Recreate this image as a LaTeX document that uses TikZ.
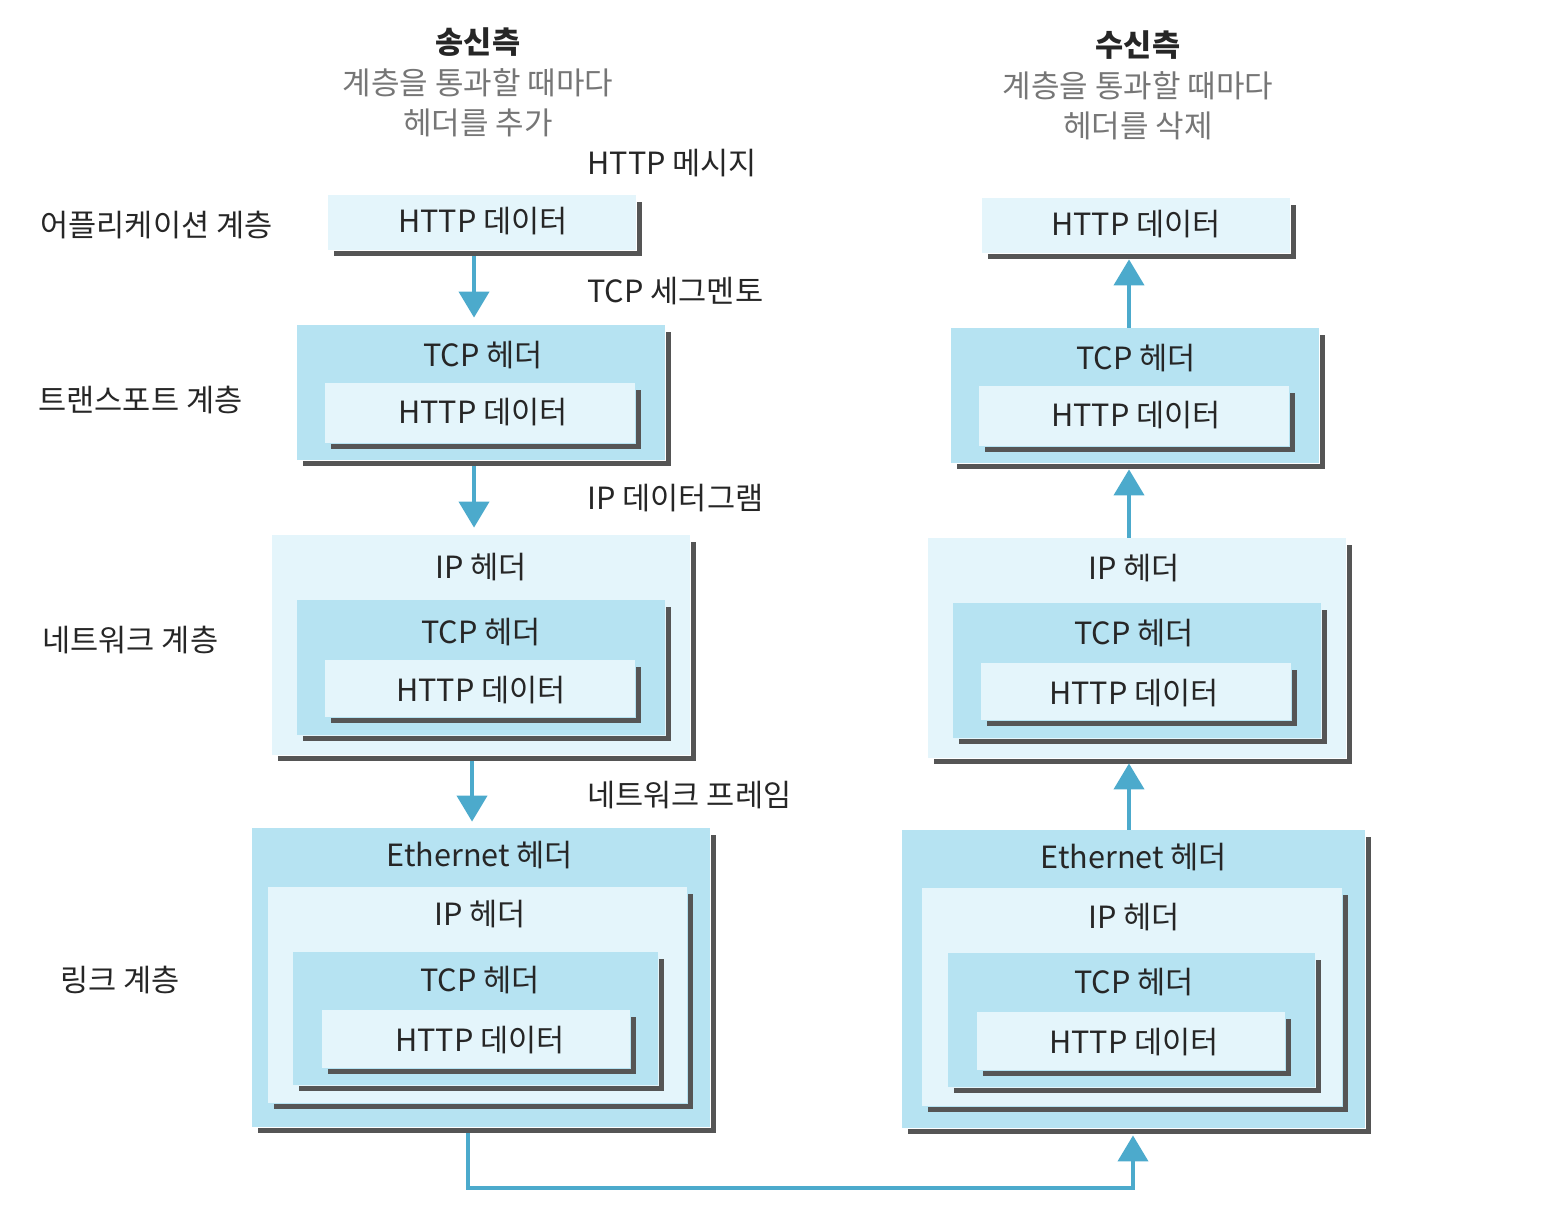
\documentclass[tikz,border=0pt]{standalone}
\usepackage{fontspec}
\setmainfont{Noto Sans CJK KR}
\usetikzlibrary{arrows.meta}
\definecolor{bdark}{RGB}{182,227,242}
\definecolor{blight}{RGB}{228,245,251}
\definecolor{shadowgray}{RGB}{85,85,85}
\definecolor{arrowblue}{RGB}{76,170,204}
\definecolor{subgray}{RGB}{118,118,118}
\tikzset{
  shadowline/.style={draw=shadowgray, line width=2.6pt},
  darkbox/.style={fill=bdark, draw=none, inner sep=0pt, rectangle},
  lightbox/.style={fill=blight, draw=none, inner sep=0pt, rectangle},
  lbl/.style={inner sep=0pt, text=black!85},
  side/.style={inner sep=0pt, anchor=west, text=black!85},
  subt/.style={inner sep=0pt, text=subgray, font=\fontsize{15.5}{18}\selectfont},
  flow/.style={draw=arrowblue, line width=2pt, -{Triangle[width=15pt,length=13pt]}},
}
% name, x1, y1, x2, y2, style, dx, dy
\newcommand\pktbox[8]{%
  \pgfmathsetmacro\pbw{(#4-#2)*0.5}%
  \pgfmathsetmacro\pbh{(#5-#3)*0.5}%
  \draw[shadowline] (#2+#7+6,#5+#8+3.5) -- (#4+#7+3.5,#5+#8+3.5) -- (#4+#7+3.5,#3+#8+7);
  \node[#6, minimum width=\pbw pt, minimum height=\pbh pt] (#1) at ({(#2+#4)/2+#7},{(#3+#5)/2+#8}) {};
}
\begin{document}
\begin{tikzpicture}[x=0.5pt, y=-0.5pt, font=\fontsize{15.3}{18}\selectfont]
\useasboundingbox (0,0) rectangle (1545,1228);

% ---------- titles ----------
\node[lbl, font=\fontsize{15.3}{18}\selectfont\bfseries] (sendT) at (478,42) {송신측};
\node[subt] (sendS1) at (478,83) {계층을 통과할 때마다};
\node[subt] (sendS2) at (478,123) {헤더를 추가};
\node[lbl, font=\fontsize{15.3}{18}\selectfont\bfseries] (recvT) at (1138,45) {수신측};
\node[subt] (recvS1) at (1138,86) {계층을 통과할 때마다};
\node[subt] (recvS2) at (1138,126) {헤더를 삭제};

% ---------- layer names ----------
\node[side] (lApp) at (40,225) {어플리케이션 계층};
\node[side] (lTp) at (38,400) {트랜스포트 계층};
\node[side] (lNw) at (42,640) {네트워크 계층};
\node[side] (lLk) at (60,980) {링크 계층};

% ---------- unit names ----------
\node[side] (uHttp) at (587,163) {HTTP 메시지};
\node[side] (uTcp) at (587,291) {TCP 세그멘토};
\node[side] (uIp) at (587,498) {IP 데이터그램};
\node[side] (uFrm) at (587,795) {네트워크 프레임};

% ---------- sender (left) ----------
\pktbox{appL}{328}{195}{636}{250}{lightbox}{0}{0}
\node[lbl] (appLt) at (483,221) {HTTP 데이터};

\pktbox{tpL}{297}{325}{665}{460}{darkbox}{0}{0}
\pktbox{tpLh}{325}{383}{635}{443}{lightbox}{0}{0}
\node[lbl] (tpLt1) at (483,355) {TCP 헤더};
\node[lbl] (tpLt2) at (483,412) {HTTP 데이터};

\pktbox{nwL}{272}{535}{690}{755}{lightbox}{0}{0}
\pktbox{nwLt}{297}{600}{665}{735}{darkbox}{0}{0}
\pktbox{nwLh}{325}{660}{635}{717}{lightbox}{0}{0}
\node[lbl] (nwLt1) at (481,567) {IP 헤더};
\node[lbl] (nwLt2) at (481,632) {TCP 헤더};
\node[lbl] (nwLt3) at (481,690) {HTTP 데이터};

\pktbox{lkL}{252}{828}{710}{1127}{darkbox}{0}{0}
\pktbox{lkLi}{268}{887}{687}{1103}{lightbox}{0}{0}
\pktbox{lkLt}{293}{952}{658}{1085}{darkbox}{0}{0}
\pktbox{lkLh}{322}{1010}{630}{1068}{lightbox}{0}{0}
\node[lbl] (lkLt1) at (480,855) {Ethernet 헤더};
\node[lbl] (lkLt2) at (480,914) {IP 헤더};
\node[lbl] (lkLt3) at (480,980) {TCP 헤더};
\node[lbl] (lkLt4) at (480,1040) {HTTP 데이터};

% ---------- receiver (right) ----------
\pktbox{appR}{328}{195}{636}{250}{lightbox}{654}{3}
\node[lbl] (appRt) at (1136,224) {HTTP 데이터};

\pktbox{tpR}{297}{325}{665}{460}{darkbox}{654}{3}
\pktbox{tpRh}{325}{383}{635}{443}{lightbox}{654}{3}
\node[lbl] (tpRt1) at (1136,358) {TCP 헤더};
\node[lbl] (tpRt2) at (1136,415) {HTTP 데이터};

\pktbox{nwR}{272}{535}{690}{755}{lightbox}{656}{3}
\pktbox{nwRt}{297}{600}{665}{735}{darkbox}{656}{3}
\pktbox{nwRh}{325}{660}{635}{717}{lightbox}{656}{3}
\node[lbl] (nwRt1) at (1134,568) {IP 헤더};
\node[lbl] (nwRt2) at (1134,633) {TCP 헤더};
\node[lbl] (nwRt3) at (1134,693) {HTTP 데이터};

\pktbox{lkR}{902}{830}{1365}{1128}{darkbox}{0}{0}
\pktbox{lkRi}{922}{888}{1342}{1106}{lightbox}{0}{0}
\pktbox{lkRt}{948}{953}{1315}{1087}{darkbox}{0}{0}
\pktbox{lkRh}{977}{1012}{1285}{1070}{lightbox}{0}{0}
\node[lbl] (lkRt1) at (1134,857) {Ethernet 헤더};
\node[lbl] (lkRt2) at (1134,917) {IP 헤더};
\node[lbl] (lkRt3) at (1134,982) {TCP 헤더};
\node[lbl] (lkRt4) at (1134,1042) {HTTP 데이터};

% ---------- arrow columns ----------
\coordinate (colL) at (474,0);
\coordinate (colL3) at (472,0);
\coordinate (colR) at (1129,0);
\coordinate (botL) at (468,0);
\coordinate (botR) at (1133,0);

% ---------- arrows ----------
\draw[flow, shorten <=3pt, shorten >=3.5pt] (appL.south -| colL) -- (tpL.north -| colL);
\draw[flow, shorten <=3pt, shorten >=3.5pt] (tpL.south -| colL) -- (nwL.north -| colL);
\draw[flow, shorten <=3pt, shorten >=3pt] (nwL.south -| colL3) -- (lkL.north -| colL3);

\draw[flow, shorten <=3pt, shorten >=3.5pt] (lkL.south -| botL) -- ++(0,61) -| (lkR.south -| botR);
\draw[flow, shorten >=2.5pt] (lkR.north -| colR) -- (nwR.south -| colR);
\draw[flow, shorten >=3pt] (nwR.north -| colR) -- (tpR.south -| colR);
\draw[flow, shorten >=3pt] (tpR.north -| colR) -- (appR.south -| colR);
\end{tikzpicture}
\end{document}
